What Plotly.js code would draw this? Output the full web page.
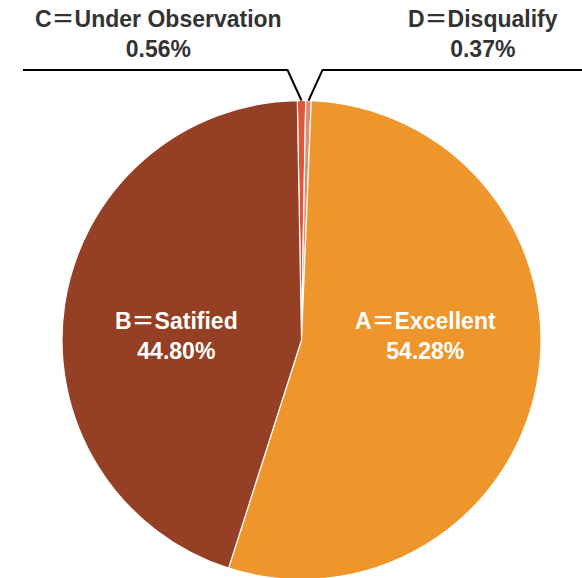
<!DOCTYPE html>
<html>
<head>
<meta charset="utf-8">
<script src="https://cdn.plot.ly/plotly-3.0.1.min.js"></script>
<style>
  html, body { margin: 0; padding: 0; overflow: hidden; background: #ffffff; }
</style>
</head>
<body>
<div id="chart"></div>
<script>
// Grade distribution (clockwise from 12 o'clock: C, D, A, B)
const categories = ['C＝Under Observation', 'D＝Disqualify', 'A＝Excellent', 'B＝Satified'];
const shares = [0.56, 0.37, 54.28, 44.80];
const shareLabels = ['0.56%', '0.37%', '54.28%', '44.80%'];
const sliceColors = ['#E25638', '#E38B6B', '#EE952B', '#954024'];

// Figure geometry (pixels)
const W = 582, H = 580;
const cx = 301.5, cy = 340, R = 239.5;
const px = x => x / W;
const py = y => 1 - y / H;

const total = shares.reduce((a, b) => a + b, 0);
// Centre the first (C) slice on 12 o'clock
const rotation = -(shares[0] / total * 360) / 2;

// Mid-angle of each slice, degrees clockwise from 12 o'clock
const midAngles = [];
let cum = 0;
shares.forEach(v => {
  midAngles.push(rotation + (cum + v / 2) / total * 360);
  cum += v;
});
const rimPoint = deg => {
  const a = deg * Math.PI / 180;
  return [cx + R * Math.sin(a), cy - R * Math.cos(a)];
};

const trace = {
  type: 'pie',
  labels: categories,
  values: shares,
  sort: false,
  direction: 'clockwise',
  rotation: rotation,
  marker: { colors: sliceColors, line: { color: '#ffffff', width: 1.2 } },
  textinfo: 'none',
  hoverinfo: 'skip',
  domain: { x: [px(cx - R), px(cx + R)], y: [py(cy + R), py(cy - R)] },
  showlegend: false
};

const labelFont = { family: 'Arial, "Liberation Sans", "Noto Sans CJK SC", sans-serif', size: 23, weight: 'bold' };

// Leader lines for the two thin slices (C to the left, D to the right)
const elbowY = 70;
const leaders = [
  { idx: 0, side: -1, endX: 23 },
  { idx: 1, side: 1, endX: W }
];
const shapes = [];
leaders.forEach(l => {
  const [ax, ay] = rimPoint(midAngles[l.idx]);
  const ex = ax + l.side * 14;
  shapes.push({
    type: 'path', xref: 'paper', yref: 'paper',
    path: `M ${px(ax)} ${py(ay)} L ${px(ex)} ${py(elbowY)} L ${px(l.endX)} ${py(elbowY)}`,
    line: { color: '#000000', width: 2 }
  });
});

const annotations = [
  { i: 0, x: 158, y: 34, color: '#333333' },
  { i: 1, x: 483, y: 34, color: '#333333' },
  { i: 2, x: 425, y: 336, color: '#ffffff' },
  { i: 3, x: 177, y: 336, color: '#ffffff' }
].map(a => ({
  xref: 'paper', yref: 'paper',
  x: px(a.x), y: py(a.y),
  xanchor: 'center', yanchor: 'middle',
  text: categories[a.i] + '<br>' + shareLabels[a.i],
  showarrow: false,
  align: 'center',
  font: Object.assign({}, labelFont, { color: a.color })
}));

const layout = {
  width: W, height: H,
  margin: { l: 0, r: 0, t: 0, b: 0, pad: 0 },
  paper_bgcolor: '#ffffff',
  plot_bgcolor: '#ffffff',
  shapes: shapes,
  annotations: annotations
};

Plotly.newPlot('chart', [trace], layout, { staticPlot: true, displayModeBar: false });
</script>
</body>
</html>
